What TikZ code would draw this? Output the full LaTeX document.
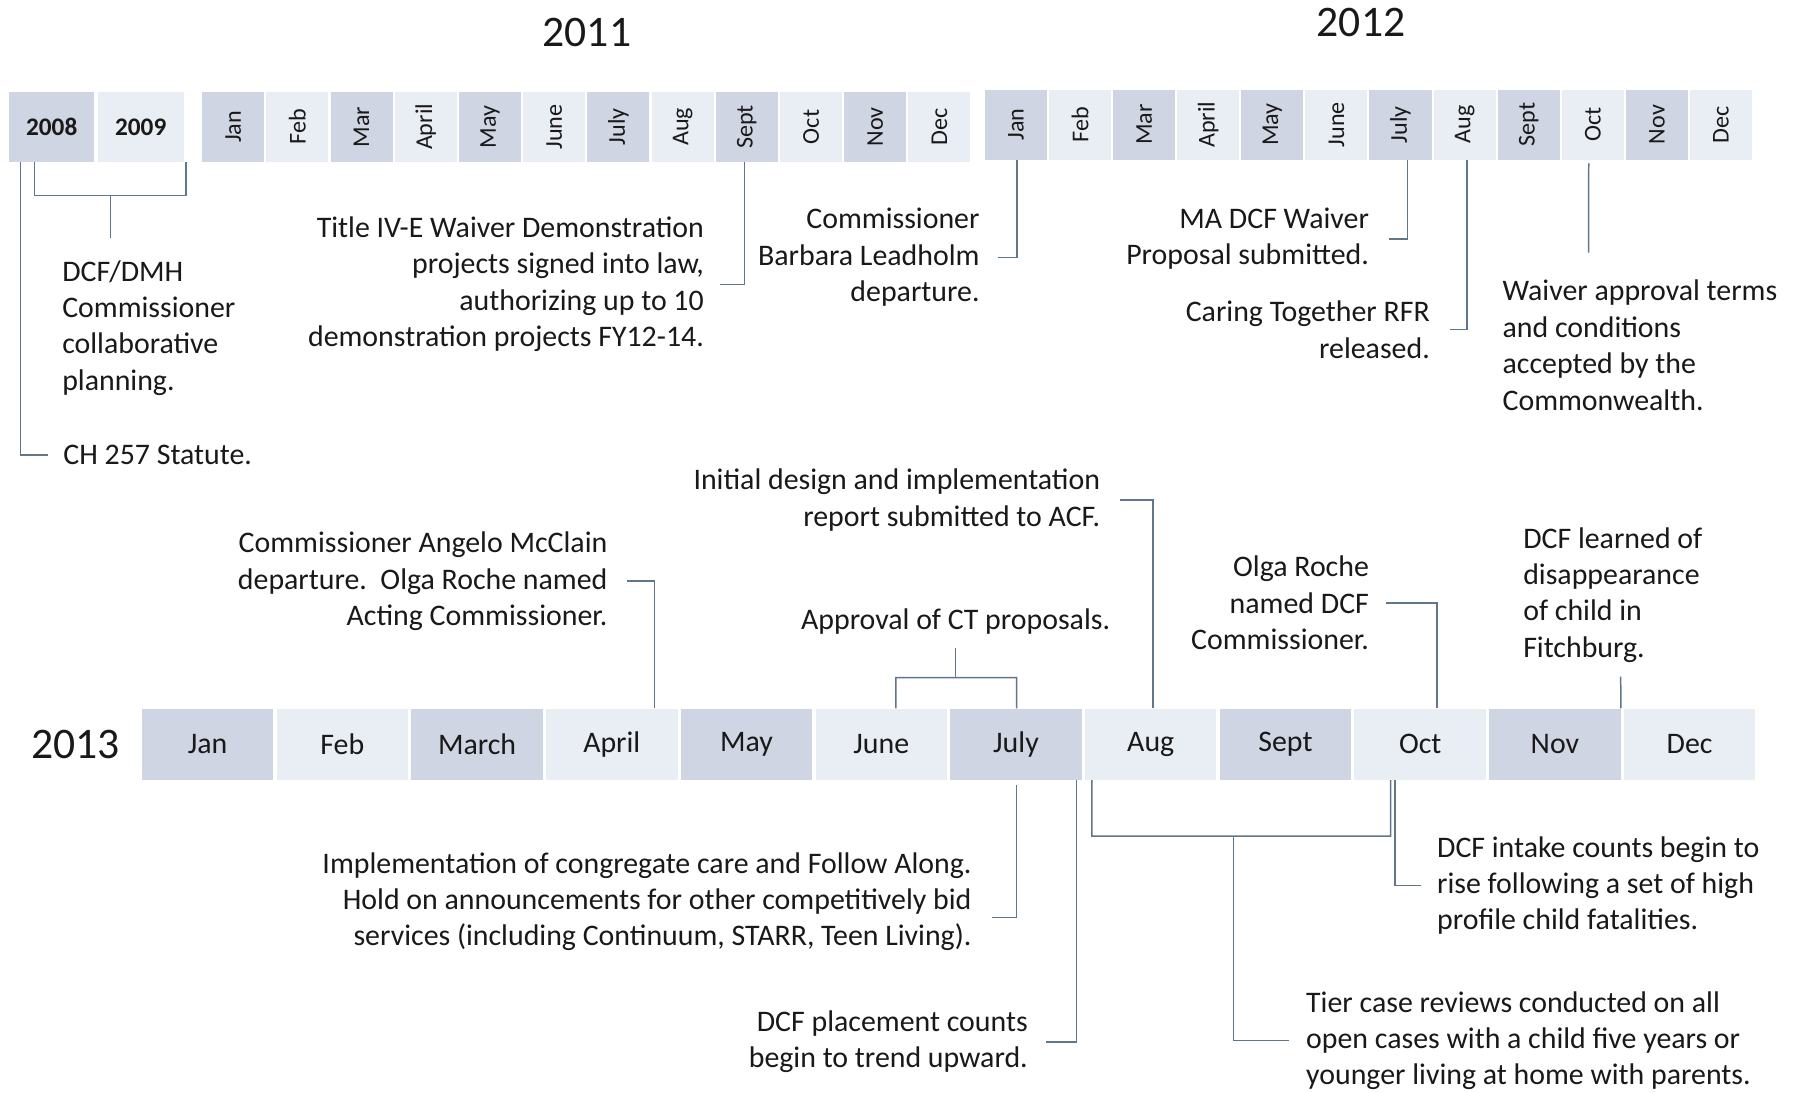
\documentclass[tikz,border=0pt]{standalone}
\usepackage{fontspec}
\setmainfont{Carlito}
\definecolor{boxdark}{RGB}{207,213,227}
\definecolor{boxlight}{RGB}{233,237,244}
\definecolor{conncol}{RGB}{96,118,138}
\definecolor{txt}{RGB}{25,25,25}
\begin{document}
\begin{tikzpicture}[x=1pt,y=-1pt,
  conn/.style={draw=conncol, line width=1.3pt},
  topbox/.style={inner sep=0pt, minimum width=54pt, minimum height=61pt, font=\fontsize{21}{25}\selectfont, text=txt},
  yearbox/.style={inner sep=0pt, minimum height=61pt, font=\bfseries\fontsize{22}{26}\selectfont, text=txt},
  rowbox/.style={inner sep=0pt, minimum width=114.5pt, minimum height=62pt, font=\fontsize{26}{31}\selectfont, text=txt},
  lbl/.style={inner sep=0pt, font=\fontsize{26}{31.7}\selectfont, text=txt},
  yeartitle/.style={inner sep=0pt, font=\fontsize{38}{44}\selectfont, text=txt}]
\useasboundingbox (0,0) rectangle (1568,951);
\fill[white] (0,0) rectangle (1568,951);

% titles
\node[yeartitle] (t11) at (511,28) {2011};
\node[yeartitle] (t12) at (1185,20) {2012};
\node[yeartitle] (t13) at (66,648) {2013};

% 2008 / 2009
\node[yearbox, minimum width=74pt, fill=boxdark] (y08) at (45,110.5) {2008};
\node[yearbox, minimum width=75pt, fill=boxlight] (y09) at (122.5,110.5) {2009};

% 2011 months
\foreach \m/\c [count=\i from 0] in {Jan/boxdark,Feb/boxlight,Mar/boxdark,April/boxlight,May/boxdark,June/boxlight,July/boxdark,Aug/boxlight,Sept/boxdark,Oct/boxlight,Nov/boxdark,Dec/boxlight}
  \node[topbox, fill=\c] (m11-\i) at (203+55.9*\i,110.5) {\rotatebox{90}{\m}};

% 2012 months
\foreach \m/\c [count=\i from 0] in {Jan/boxdark,Feb/boxlight,Mar/boxdark,April/boxlight,May/boxdark,June/boxlight,July/boxdark,Aug/boxlight,Sept/boxdark,Oct/boxlight,Nov/boxdark,Dec/boxlight}
  \node[topbox, fill=\c] (m12-\i) at (884.5+55.8*\i,108.5) {\rotatebox{90}{\m}};

% 2013 months
\foreach \m/\c [count=\i from 0] in {Jan/boxdark,Feb/boxlight,March/boxdark,April/boxlight,May/boxdark,June/boxlight,July/boxdark,Aug/boxlight,Sept/boxdark,Oct/boxlight,Nov/boxdark,Dec/boxlight}
  \node[rowbox, fill=\c] (m13-\i) at (180.75+117.3*\i,648) {\m};

% ---- labels, top
\node[lbl, anchor=west] (ch) at (55,396) {CH 257 Statute.};
\node[lbl, anchor=west, align=left] (dmh) at (54,285.5) {DCF/DMH\\Commissioner\\collaborative\\planning.};
\node[lbl, anchor=east, align=right] (tive) at (613,247.5) {Title IV-E Waiver Demonstration\\projects signed into law,\\authorizing up to 10\\demonstration projects FY12-14.};
\node[lbl, anchor=east, align=right] (barb) at (853,224) {Commissioner\\Barbara Leadholm\\departure.};
\node[lbl, anchor=east, align=right] (ma) at (1192,208) {MA DCF Waiver\\Proposal submitted.};
\node[lbl, anchor=east, align=right] (ct) at (1245,287) {Caring Together RFR\\released.};
\node[lbl, anchor=west, align=left] (wa) at (1308,300.5) {Waiver approval terms\\and conditions\\accepted by the\\Commonwealth.};

% ---- labels, 2013 above
\node[lbl, anchor=east, align=right] (ang) at (529,506) {Commissioner Angelo McClain\\departure.\ \ Olga Roche named\\Acting Commissioner.};
\node[lbl, anchor=east, align=right] (init) at (958,435.5) {Initial design and implementation\\report submitted to ACF.};
\node[lbl] (appr) at (832,541) {Approval of CT proposals.};
\node[lbl, anchor=east, align=right] (olga) at (1192,525) {Olga Roche\\named DCF\\Commissioner.};
\node[lbl, anchor=west, align=left] (fitch) at (1326,518) {DCF learned of\\disappearance\\of child in\\Fitchburg.};

% ---- labels, 2013 below
\node[lbl, anchor=east, align=right] (impl) at (846,785) {Implementation of congregate care and Follow Along.\\Hold on announcements for other competitively bid\\services (including Continuum, STARR, Teen Living).};
\node[lbl, anchor=east, align=right] (plc) at (895,907) {DCF placement counts\\begin to trend upward.};
\node[lbl, anchor=west, align=left] (tier) at (1137,906) {Tier case reviews conducted on all\\open cases with a child five years or\\younger living at home with parents.};
\node[lbl, anchor=west, align=left] (intk) at (1251,771) {DCF intake counts begin to\\rise following a set of high\\profile child fatalities.};

% ---- coordinates
\coordinate (b1R) at (162,170);
\coordinate (b1M) at (96,170);
\coordinate (b1E) at (96,207);
\coordinate (waE) at (1383,220);
\coordinate (apR) at (885,590);
\coordinate (apM) at (832,590);
\coordinate (apT) at (832,564);
\coordinate (fitE) at (1411,589);
\coordinate (impE) at (864,799);
\coordinate (tbR) at (1210.8,728);
\coordinate (tbM) at (1073.8,728);

% ---- connectors, top
\draw[conn] ([xshift=-27pt]y08.south) |- ([xshift=-13pt]ch.west);
\draw[conn] ([xshift=-15pt]y08.south) |- (b1R) -- ([xshift=39.5pt]y09.south);
\draw[conn] (b1M) -- (b1E);
\draw[conn] ([xshift=-2pt]m11-8.south) |- ([xshift=14pt]tive.east);
\draw[conn] ([xshift=1pt]m12-0.south) |- ([xshift=16pt]barb.east);
\draw[conn] ([xshift=6pt]m12-6.south) |- ([xshift=17pt]ma.east);
\draw[conn] ([xshift=2pt]m12-7.south) |- ([xshift=17pt]ct.east);
\draw[conn] ([xshift=-3.5pt,yshift=-3pt]m12-9.south) -- (waE);

% ---- connectors, 2013 above
\draw[conn] ([xshift=17pt]ang.east) -| ([xshift=37pt]m13-3.north);
\draw[conn] ([xshift=17pt]init.east) -| ([xshift=2pt]m13-7.north);
\draw[conn] ([xshift=12.75pt]m13-5.north) |- (apR) -- ([xshift=0.5pt]m13-6.north);
\draw[conn] (apM) -- (apT);
\draw[conn] ([xshift=15pt]olga.east) -| ([xshift=14.5pt]m13-9.north);
\draw[conn] (m13-10.north east) -- (fitE);

% ---- connectors, 2013 below
\draw[conn] ([xshift=0.5pt,yshift=-4pt]m13-6.south) |- (impE);
\draw[conn] ([xshift=52.5pt]m13-6.south) |- ([xshift=16pt]plc.east);
\draw[conn] ([xshift=-51.15pt]m13-7.south) |- (tbR) -- ([xshift=-25.65pt]m13-9.south);
\draw[conn] (tbM) |- ([xshift=-15pt]tier.west);
\draw[conn] ([xshift=-22pt]m13-9.south) |- ([xshift=-13.5pt]intk.west);
\end{tikzpicture}
\end{document}
